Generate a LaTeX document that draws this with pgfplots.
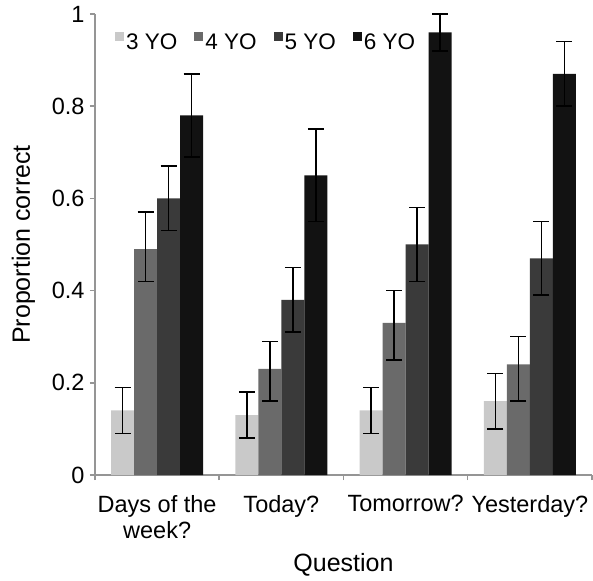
\documentclass[border=0pt]{standalone}
\usepackage{fontspec}
\setmainfont{Liberation Sans}
\usepackage{pgfplots}
\pgfplotsset{compat=1.18}

\definecolor{c3}{HTML}{C9C9C9}
\definecolor{c4}{HTML}{6A6A6A}
\definecolor{c5}{HTML}{3A3A3A}
\definecolor{c6}{HTML}{121212}
\definecolor{axgray}{HTML}{959595}

\begin{document}
\begin{tikzpicture}
% keep the reference's canvas: axis box from (95,14) to (592,475) in a 593x581 picture
\path[use as bounding box] (-95bp,-106bp) rectangle (498bp,475bp);
\begin{axis}[
    at={(0,0)}, anchor=south west,
    scale only axis,
    width=497bp, height=461bp,
    ybar=0pt, bar width=23bp,
    xmin=-0.5, xmax=3.5,
    ymin=0, ymax=1,
    xtick={-0.5,0.5,1.5,2.5,3.5},
    x tick label as interval,
    xticklabels={Days of the\\week?, Today?, Tomorrow?, Yesterday?},
    xticklabel style={align=center, font=\fontsize{23.5bp}{26bp}\selectfont, yshift=-12bp},
    ytick={0,0.2,0.4,0.6,0.8,1},
    yticklabel style={font=\fontsize{23.5bp}{26bp}\selectfont, xshift=-2bp},
    /pgf/number format/assume math mode=true,
    axis x line*=bottom, axis y line*=left,
    axis line style={draw=axgray, line width=1.5bp},
    tick style={draw=axgray, line width=1.5bp},
    tick align=outside,
    major tick length=5bp,
    xlabel={Question}, ylabel={Proportion correct},
    label style={font=\fontsize{25bp}{28bp}\selectfont},
    xlabel style={yshift=-8bp},
    ylabel style={yshift=10bp},
    error bars/error bar style={black, line width=1.5bp},
    error bars/error mark options={rotate=90, black, mark size=8bp, line width=1.5bp},
    legend columns=4,
    legend style={draw=none, fill=none, inner sep=0pt, at={(axis description cs:0.04,0.962)}, anchor=north west,
        font=\fontsize{22.5bp}{24bp}\selectfont,
        /tikz/every even column/.append style={column sep=15bp}},
    legend image code/.code={\fill[#1] (0bp,2bp) rectangle (9bp,11bp);},
]
\addplot[fill=c3, draw=none, error bars/.cd, y dir=both, y explicit] coordinates {
    (0,0.14) += (0,0.05) -= (0,0.05)
    (1,0.13) += (0,0.05) -= (0,0.05)
    (2,0.14) += (0,0.05) -= (0,0.05)
    (3,0.16) += (0,0.06) -= (0,0.06)
};
\addplot[fill=c4, draw=none, error bars/.cd, y dir=both, y explicit] coordinates {
    (0,0.49) += (0,0.08) -= (0,0.07)
    (1,0.23) += (0,0.06) -= (0,0.07)
    (2,0.33) += (0,0.07) -= (0,0.08)
    (3,0.24) += (0,0.06) -= (0,0.08)
};
\addplot[fill=c5, draw=none, error bars/.cd, y dir=both, y explicit] coordinates {
    (0,0.60) += (0,0.07) -= (0,0.07)
    (1,0.38) += (0,0.07) -= (0,0.07)
    (2,0.50) += (0,0.08) -= (0,0.08)
    (3,0.47) += (0,0.08) -= (0,0.08)
};
\addplot[fill=c6, draw=none, error bars/.cd, y dir=both, y explicit] coordinates {
    (0,0.78) += (0,0.09) -= (0,0.09)
    (1,0.65) += (0,0.10) -= (0,0.10)
    (2,0.96) += (0,0.04) -= (0,0.04)
    (3,0.87) += (0,0.07) -= (0,0.07)
};
\legend{3 YO, 4 YO, 5 YO, 6 YO}
\end{axis}
\end{tikzpicture}
\end{document}
